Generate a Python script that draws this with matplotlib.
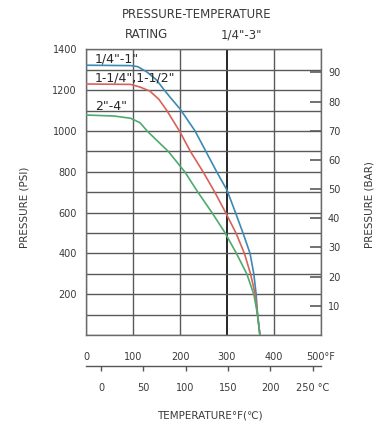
import numpy as np
import matplotlib
matplotlib.use("Agg")
import matplotlib.pyplot as plt

# values (temperature in °F, pressure in psi)
temp_blue = [0, 95, 110, 129, 150, 165, 179, 200, 232, 255, 278, 300, 318, 334, 349, 357, 362, 365, 370]
psi_blue = [1322, 1320, 1315, 1290, 1250, 1205, 1165, 1108, 1000, 900, 800, 710, 600, 500, 400, 300, 200, 100, 0]

temp_red = [0, 95, 115, 136, 155, 172, 200, 222, 249, 274, 297, 319, 337, 350, 360, 365, 370]
psi_red = [1230, 1228, 1215, 1195, 1155, 1100, 995, 900, 800, 700, 600, 500, 400, 300, 200, 100, 0]

temp_green = [0, 60, 95, 115, 130, 150, 175, 210, 238, 268, 296, 320, 342, 357, 365, 370]
psi_green = [1078, 1073, 1062, 1040, 1000, 955, 900, 800, 700, 600, 500, 400, 300, 200, 100, 0]

series_labels = ['1/4"-1"', '1-1/4",1-1/2"', '2"-4"']
label_pos = [(19, 1353), (19, 1261), (19, 1119)]

f_ticks = [0, 100, 200, 300, 400, 500]
f_labels = ['0', '100', '200', '300', '400', '500°F']
c_ticks = [-17.78, 0, 50, 100, 150, 200, 250]
c_labels = ['', '0', '50', '100', '150', '200', '250 °C']
psi_grid = list(range(0, 1401, 100))
psi_labels = [200, 400, 600, 800, 1000, 1200, 1400]
bar_ticks = [10, 20, 30, 40, 50, 60, 70, 80, 90]
psi_per_bar = 14.3

W, H = 376, 425
txt = '#3a3a3a'
gridc = '#5a5a5a'

fig = plt.figure(figsize=(W / 100, H / 100), dpi=100)
ax = fig.add_axes([86 / W, 1 - 335 / H, (321 - 86) / W, (335 - 49.3) / H])

ax.set_xlim(0, 500)
ax.set_ylim(0, 1400)
ax.set_xticks(f_ticks, labels=f_labels)
ax.set_yticks(psi_grid, labels=[str(v) if v in psi_labels else '' for v in psi_grid])
ax.tick_params(axis='both', length=0, labelsize=7, labelcolor=txt)
ax.tick_params(axis='x', pad=12)
ax.tick_params(axis='y', pad=6.5)
ax.grid(True, color=gridc, lw=1.0)
ax.set_axisbelow(True)
ax.xaxis.get_gridlines()[3].set_color('#262626')
ax.xaxis.get_gridlines()[3].set_linewidth(1.4)
for s in ax.spines.values():
    s.set_color('#6a6a6a')
    s.set_linewidth(1.0)

ax.plot(temp_blue, psi_blue, color='#3b8ab4', lw=1.2, zorder=3)
ax.plot(temp_red, psi_red, color='#d8625a', lw=1.2, zorder=3)
ax.plot(temp_green, psi_green, color='#4dab6d', lw=1.2, zorder=3)

for lab, (x, y) in zip(series_labels, label_pos):
    ax.text(x, y, lab, fontsize=9, color='#262626', ha='left', va='center', zorder=4)

# bar scale on the right
ax2 = ax.twinx()
ax2.set_ylim(0, 1400 / psi_per_bar)
ax2.set_yticks(bar_ticks)
ax2.tick_params(axis='y', direction='in', length=8, width=1.2, color='#5a5a5a',
                labelsize=7, labelcolor=txt, pad=5)
for s in ax2.spines.values():
    s.set_visible(False)

# celsius scale below
def f2c(f):
    return (np.asarray(f) - 32) * 5 / 9

def c2f(c):
    return np.asarray(c) * 9 / 5 + 32

sec = ax.secondary_xaxis(-0.1085, functions=(f2c, c2f))
sec.set_xticks(c_ticks, labels=c_labels)
sec.tick_params(axis='x', direction='out', length=3.5, width=1.0, color='#555555',
                labelsize=7, labelcolor=txt, pad=9)
sec.spines['bottom'].set_color('#555555')
sec.spines['bottom'].set_linewidth(1.0)

fig.text(197 / W, 1 - 14 / H, 'PRESSURE-TEMPERATURE', fontsize=8.5, color=txt, ha='center', va='center')
fig.text(147 / W, 1 - 35 / H, 'RATING', fontsize=8.5, color=txt, ha='center', va='center')
fig.text(241 / W, 1 - 35 / H, '1/4"-3"', fontsize=8.5, color=txt, ha='center', va='center')
fig.text(25 / W, 1 - 207 / H, 'PRESSURE (PSI)', fontsize=7.5, color=txt, ha='center', va='center', rotation=90)
fig.text(369 / W, 1 - 205 / H, 'PRESSURE (BAR)', fontsize=7.5, color=txt, ha='center', va='center', rotation=90)
fig.text(210 / W, 1 - 416 / H, 'TEMPERATURE°F(℃)', fontsize=7.5, color=txt, ha='center', va='center')

fig.savefig('out.png', dpi=100)
